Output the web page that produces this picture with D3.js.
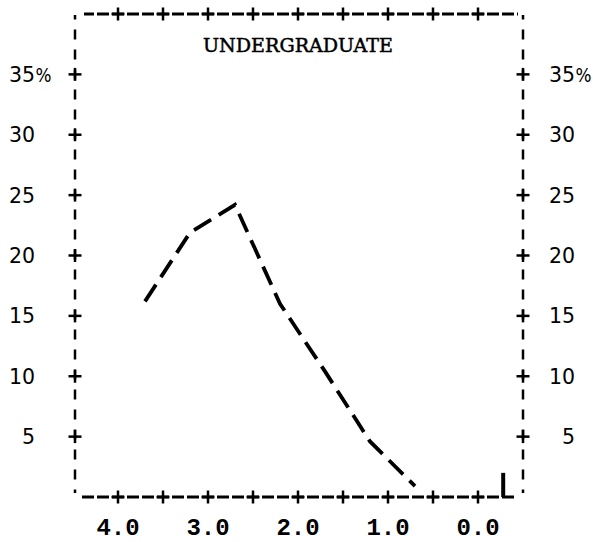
<!DOCTYPE html>
<html>
<head>
<meta charset="utf-8">
<script src="https://cdn.jsdelivr.net/npm/d3@7"></script>
<style>
  html, body { margin: 0; padding: 0; background: #fff; }
  svg { display: block; }
</style>
</head>
<body>
<div id="chart"></div>
<script>
// grade point (x) vs percent of undergraduates (y)
const grades   = [3.7, 3.2, 2.7, 2.2, 1.7, 1.2, 0.7];
const percents = [16.2, 21.9, 24.2, 16.0, 10.4, 4.6, 0.9];
// lone spike just right of 0.0
const spikeGrades   = [-0.28];
const spikePercents = [2.0];

const xTicks = [4.0, 3.5, 3.0, 2.5, 2.0, 1.5, 1.0, 0.5, 0.0];
const xLabels = ["4.0", "3.0", "2.0", "1.0", "0.0"];
const yTicks = [5, 10, 15, 20, 25, 30, 35];
const title = "UNDERGRADUATE";

(function draw() {
  const W = 593, H = 542;
  const svg = d3.select("#chart").append("svg")
    .attr("width", W).attr("height", H);

  const x = d3.scaleLinear().domain([4.5, -0.5]).range([73, 523]);
  const y = d3.scaleLinear().domain([0, 40]).range([497, 14]);

  const fLeft = x(4.5) + 2, fRight = x(-0.5), fTop = y(40), fBottom = y(0);

  /* dashed frame, like a line printer */
  function hDash(x0, x1, yy, w) {
    const period = 15, dash = 12;
    const off = (((x0 + dash / 2 - x(4.0)) % period) + period) % period;
    svg.append("line").attr("x1", x0).attr("x2", x1).attr("y1", yy).attr("y2", yy)
      .attr("stroke", "#000").attr("stroke-width", w)
      .attr("stroke-dasharray", `${dash},${period - dash}`)
      .attr("stroke-dashoffset", off);
  }
  function vDash(xx, y0, y1) {
    const period = 20, dash = 10;
    const off = (((y0 + dash / 2 - y(35) - 20) % period) + period) % period;
    svg.append("line").attr("x1", xx).attr("x2", xx).attr("y1", y0).attr("y2", y1)
      .attr("stroke", "#000").attr("stroke-width", 2.5)
      .attr("stroke-dasharray", `${dash},${period - dash}`)
      .attr("stroke-dashoffset", off);
  }
  hDash(fLeft + 9, fRight - 5, fTop, 3);
  hDash(fLeft + 7, fRight - 9, fBottom, 3);
  vDash(fLeft, fTop + 1, fBottom - 4);
  vDash(fRight, fTop + 1, fBottom - 4);

  /* "+" tick marks */
  function plus(cx, cy) {
    const a = 6.5;
    svg.append("line").attr("x1", cx - a).attr("x2", cx + a).attr("y1", cy).attr("y2", cy)
      .attr("stroke", "#000").attr("stroke-width", 2.5);
    svg.append("line").attr("x1", cx).attr("x2", cx).attr("y1", cy - a).attr("y2", cy + a)
      .attr("stroke", "#000").attr("stroke-width", 2.5);
  }
  xTicks.forEach(t => { plus(x(t), fTop); plus(x(t), fBottom); });
  yTicks.forEach(t => { plus(fLeft, y(t)); plus(fRight, y(t)); });

  /* y labels on both sides */
  const yFont = "'DejaVu Sans', Verdana, sans-serif";
  [35, 575].forEach(px => {
    svg.append("g").selectAll("text").data(yTicks).join("text")
      .attr("x", px).attr("y", d => y(d) + 7.5)
      .attr("text-anchor", "end")
      .attr("font-family", yFont).attr("font-size", "20.5px").attr("fill", "#000")
      .text(d => d);
  });
  [35.5, 575.5].forEach(px => {
    svg.append("text").attr("x", px).attr("y", y(35) + 7.5)
      .attr("font-family", yFont).attr("font-size", "19px").attr("fill", "#000")
      .attr("textLength", 16).attr("lengthAdjust", "spacingAndGlyphs")
      .text("%");
  });

  /* x labels */
  svg.append("g").selectAll("text").data(xLabels).join("text")
    .attr("x", d => x(+d)).attr("y", 535)
    .attr("text-anchor", "middle")
    .attr("font-family", "'Liberation Mono', 'Courier New', monospace")
    .attr("font-size", "24px").attr("font-weight", "bold").attr("fill", "#000")
    .text(d => d);

  /* title */
  svg.append("text").attr("x", 298).attr("y", 52)
    .attr("text-anchor", "middle")
    .attr("font-family", "'DejaVu Serif', Georgia, serif")
    .attr("font-size", "19px").attr("fill", "#000")
    .attr("stroke", "#000").attr("stroke-width", 0.5)
    .attr("textLength", 190).attr("lengthAdjust", "spacingAndGlyphs")
    .text(title);

  /* data line */
  const pts = grades.map((g, i) => [g, percents[i]]);
  const line = d3.line().x(d => x(d[0])).y(d => y(d[1]));
  svg.append("path").datum(pts)
    .attr("d", line)
    .attr("fill", "none").attr("stroke", "#000")
    .attr("stroke-width", 3.8)
    .attr("stroke-dasharray", "20,9");

  /* spike */
  svg.append("g").selectAll("line").data(spikeGrades).join("line")
    .attr("x1", d => x(d)).attr("x2", d => x(d))
    .attr("y1", y(0)).attr("y2", (d, i) => y(spikePercents[i]))
    .attr("stroke", "#000").attr("stroke-width", 4);
})();
</script>
</body>
</html>
